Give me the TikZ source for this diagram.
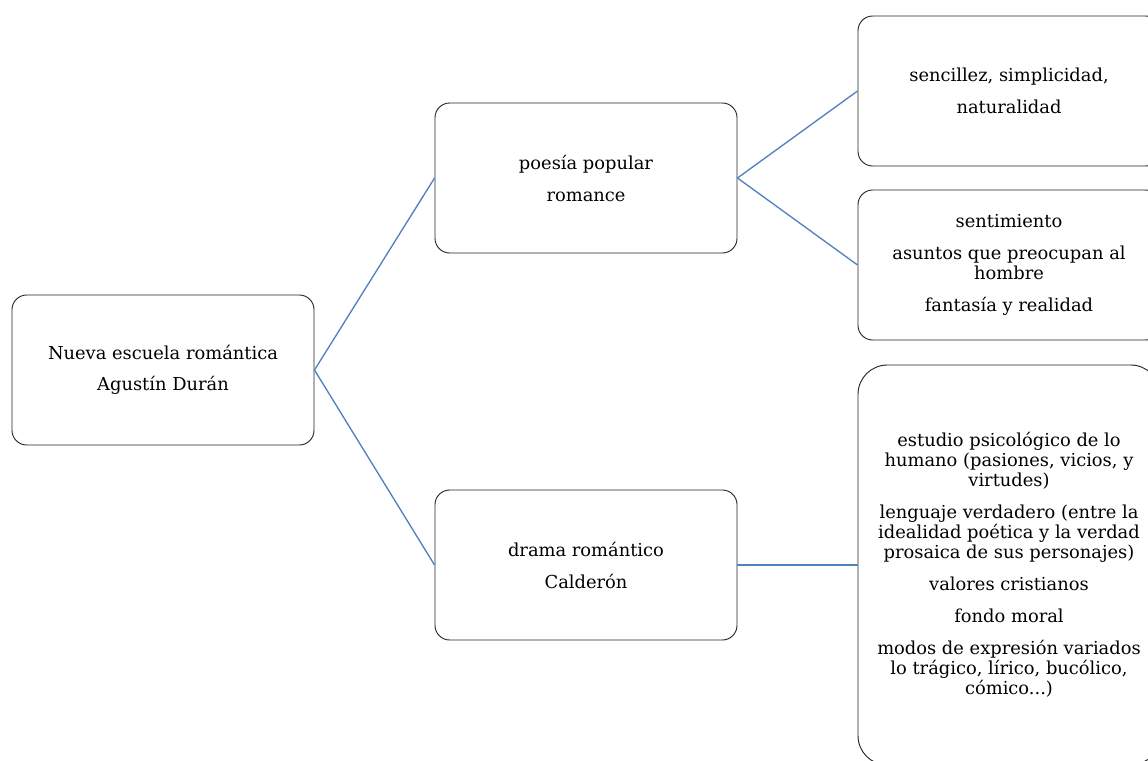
\documentclass[tikz,border=0pt]{standalone}
\usepackage{fontspec}
\setmainfont{DejaVu Serif}
\usepackage{tikz}
\usepackage{xcolor}

\definecolor{linkblue}{RGB}{79,129,189}

\begin{document}
\begin{tikzpicture}[x=0.75pt, y=-0.75pt,
    box/.style={draw=black!85, line width=0.7pt, rounded corners=11pt, align=center,
      minimum width=226.5pt, minimum height=112.5pt, inner sep=4pt,
      font=\fontsize{13.4}{15}\selectfont},
    link/.style={draw=linkblue, line width=1pt}]
    \useasboundingbox (0,0) rectangle (1148,760);
    \clip (0,0) rectangle (1148,760);
    \node [box] (escuela) at (163,370) {Nueva escuela romántica\\[8pt]Agustín Durán};
    \node [box] (poesia) at (586,178) {poesía popular\\[9pt]romance};
    \node [box] (drama) at (586,565) {drama romántico\\[9pt]Calderón};
    \node [box] (sencillez) at (1009,91) {sencillez, simplicidad,\\[9pt]naturalidad};
    \node [box] (sentimiento) at (1009,265) {sentimiento\\[9pt]asuntos que preocupan al\\hombre\\[9pt]fantasía y realidad};
    \node [box, rounded corners=22pt, minimum height=300pt] (rasgos) at (1009,565)
      {estudio psicológico de lo\\humano (pasiones, vicios, y\\virtudes)\\[9pt]
       lenguaje verdadero (entre la\\idealidad poética y la verdad\\prosaica de sus personajes)\\[9pt]
       valores cristianos\\[9pt]fondo moral\\[9pt]
       modos de expresión variados\\lo trágico, lírico, bucólico,\\cómico...)};
    \draw [link] (escuela.east) -- (poesia.west);
    \draw [link] (escuela.east) -- (drama.west);
    \draw [link] (poesia.east) -- (sencillez.west);
    \draw [link] (poesia.east) -- (sentimiento.west);
    \draw [link] (drama.east) -- (rasgos.west);
  \end{tikzpicture}
\end{document}
